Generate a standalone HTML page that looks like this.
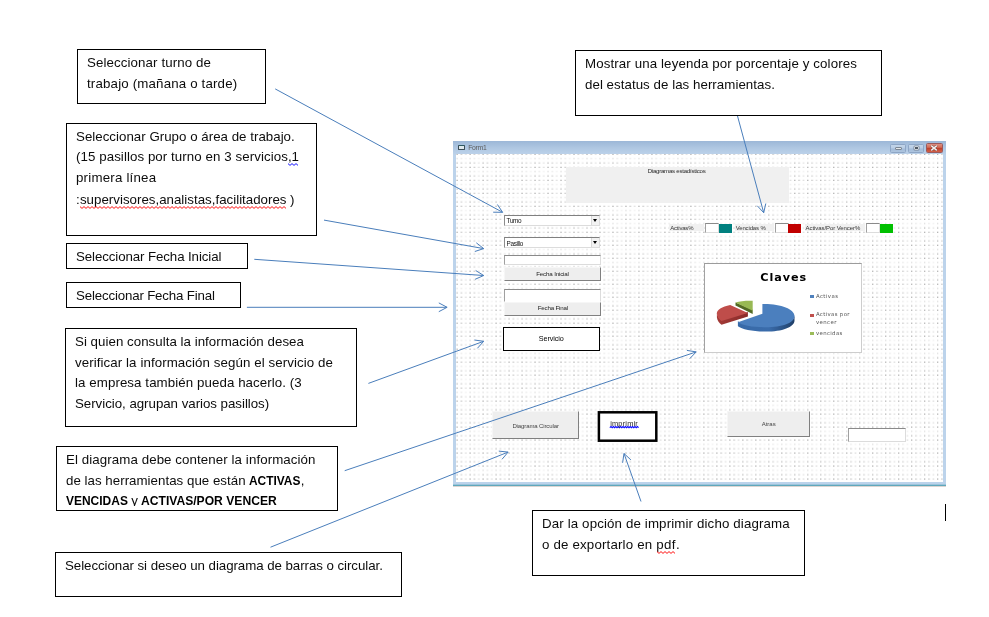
<!DOCTYPE html>
<html lang="es">
<head>
<meta charset="utf-8">
<title>Diagramas estadísticos</title>
<style>
html,body{margin:0;padding:0;background:#fff;}
body{width:989px;height:617px;position:relative;overflow:hidden;font-family:"Liberation Sans",sans-serif;color:#000;}
.tb{position:absolute;border:1px solid #000;background:#fff;box-sizing:content-box;}
.ln{position:absolute;left:0;white-space:nowrap;font-size:13.3px;line-height:20px;height:20px;padding-left:9.0px;color:#0c0c0c;filter:grayscale(1);}
.ln b{display:inline-block;font-size:13px;font-weight:bold;transform-origin:0 50%;white-space:nowrap;color:#000;}
.zz{position:absolute;overflow:visible;}
.arrows{position:absolute;left:0;top:0;pointer-events:none;}
.abs{position:absolute;box-sizing:border-box;}
.vt{position:absolute;white-space:nowrap;filter:grayscale(1) blur(0.25px);font-size:6.5px;line-height:8px;color:#333;letter-spacing:-0.1px;}
.btn{position:absolute;box-sizing:border-box;background:#eeeeee;border:1px solid #f6f6f6;border-right-color:#808080;border-bottom-color:#808080;}
.inp{position:absolute;box-sizing:border-box;background:#fff;border:1px solid #dcdcdc;border-top-color:#8a8a8a;border-left-color:#a0a0a0;}
.inp.cb{border-top:1.4px solid #808080;border-left:1.3px solid #8c8c8c;}
.lab{position:absolute;background:#f0f0f0;}
.wb{position:absolute;top:143.5px;height:9px;box-sizing:border-box;border:1px solid #8ea6c6;border-radius:1.5px;background:linear-gradient(#c3d5e9,#b9cde5 48%,#a3bbd8 52%,#adc4de);}
.wb i{position:absolute;display:block;box-sizing:border-box;border-radius:1px;}
.wb.cl{background:linear-gradient(#dc8f80,#d4705c 40%,#c1412b 55%,#d2624b);border-color:#9a5a5c;top:143.3px;height:9.4px}
.dd{position:absolute;right:0;top:0;width:8.5px;height:100%;background:#f2f2f2;border-left:1px solid #d8d8d8;box-sizing:border-box;}
.dd i{position:absolute;left:1.3px;top:3.4px;width:0;height:0;border-left:2.5px solid transparent;border-right:2.5px solid transparent;border-top:3px solid #000;}
</style>
</head>
<body>
<!-- ===== VB form mock-up ===== -->
<div id="frame" class="abs" style="left:453px;top:141px;width:493px;height:346px;background:linear-gradient(#9cb7d7 0,#afc7e2 7px,#bbd1e9 13px,#bcd3eb 14px,#bcd3eb 343.3px,#5fa8bc 343.9px,#5fa8bc 345px,#b9aaa4 345.3px,#fff 345.7px);"></div>
<div id="client" class="abs" style="left:456px;top:154px;width:487px;height:328px;background:#fff;overflow:hidden;">
<svg width="487" height="328" style="position:absolute;left:0;top:0"><defs><pattern id="dots" x="0.6" y="-0.2" width="12.99" height="12.99" patternUnits="userSpaceOnUse"><rect x="0.00" y="0.00" width="1" height="0.95" fill="#787878"/><rect x="4.33" y="0.00" width="1" height="0.95" fill="#8c8c8c"/><rect x="8.66" y="0.00" width="1" height="0.95" fill="#b4b4b4"/><rect x="0.00" y="4.33" width="1" height="0.95" fill="#c2c2c2"/><rect x="4.33" y="4.33" width="1" height="0.95" fill="#cbcbcb"/><rect x="8.66" y="4.33" width="1" height="0.95" fill="#dddddd"/><rect x="0.00" y="8.66" width="1" height="0.95" fill="#858585"/><rect x="4.33" y="8.66" width="1" height="0.95" fill="#979797"/><rect x="8.66" y="8.66" width="1" height="0.95" fill="#bcbcbc"/></pattern></defs><rect width="487" height="328" fill="url(#dots)"/></svg>
</div>
<div class="abs" style="left:458.2px;top:144.8px;width:6.6px;height:5.6px;background:#dfe9ee;border:1px solid #3a4c55;border-top:1.6px solid #2c5960;border-radius:1px;filter:blur(0.3px)"></div>
<div class="vt" style="left:468.2px;top:142.5px;font-size:6.8px;line-height:10px;letter-spacing:-0.269px;color:#4d5d78;">Form1</div>
<div class="wb" style="left:890px;width:16px"><i style="left:4.2px;top:2.9px;width:6.4px;height:2.9px;background:#e4e7ea;border:0.6px solid #7b8794"></i></div>
<div class="wb" style="left:908px;width:16px"><i style="left:4.6px;top:1.2px;width:5.8px;height:4.4px;background:#4e5966;border:1px solid #c9d0d8;box-shadow:0 0 0 0.5px #76849a"></i></div>
<div class="wb cl" style="left:925.6px;width:17px"><svg width="8" height="6" viewBox="0 0 8 6" style="position:absolute;left:3.8px;top:1.1px"><path d="M1.2 0.6L6.8 5.4M6.8 0.6L1.2 5.4" stroke="#7a4038" stroke-width="2.6" fill="none"/><path d="M1.2 0.6L6.8 5.4M6.8 0.6L1.2 5.4" stroke="#f1efee" stroke-width="1.5" fill="none"/></svg></div>
<div class="lab" style="left:565.6px;top:166.6px;width:223.2px;height:36.4px"></div>
<div class="vt" style="left:647.7px;top:166.0px;font-size:6.1px;line-height:9px;letter-spacing:-0.254px;color:#262626;">Diagramas estadísticos</div>
<div class="inp cb" style="left:504.3px;top:214.6px;width:96.2px;height:11.2px"><div class="dd"><i></i></div></div>
<div class="vt" style="left:506.6px;top:216.0px;font-size:6.4px;line-height:9px;letter-spacing:-0.376px;color:#111;">Turno</div>
<div class="inp cb" style="left:504.3px;top:237.1px;width:96.2px;height:10.6px"><div class="dd"><i></i></div></div>
<div class="vt" style="left:506.6px;top:239.0px;font-size:6.4px;line-height:9px;letter-spacing:-0.365px;color:#111;">Pasillo</div>
<div class="inp" style="left:504.3px;top:254.6px;width:96.3px;height:10.8px"></div>
<div class="btn" style="left:504.3px;top:266.8px;width:96.8px;height:13.8px"></div>
<div class="vt" style="left:536.2px;top:269.0px;font-size:6.2px;line-height:9px;letter-spacing:-0.162px;color:#222;">Fecha Inicial</div>
<div class="inp" style="left:504.3px;top:289px;width:96.3px;height:12.6px;border-bottom-color:#fff"></div>
<div class="btn" style="left:504.3px;top:301.9px;width:96.8px;height:14.1px"></div>
<div class="vt" style="left:537.8px;top:303.0px;font-size:6.2px;line-height:9px;letter-spacing:-0.208px;color:#222;">Fecha Final</div>
<div class="abs" style="left:503px;top:327px;width:97px;height:24px;background:#fff;border:1px solid #000"></div>
<div class="vt" style="left:538.8px;top:333.5px;font-size:7.2px;line-height:10px;letter-spacing:-0.076px;color:#000;">Servicio</div>
<div class="btn" style="left:491.7px;top:411.2px;width:87.6px;height:28px"></div>
<div class="vt" style="left:512.4px;top:422.0px;font-size:6.0px;line-height:8px;letter-spacing:-0.114px;color:#444;">Diagrama Circular</div>
<svg class="abs" style="left:596px;top:409px" width="64" height="36" viewBox="596 409 64 36"><rect x="598.9" y="412.3" width="57.4" height="28.4" fill="#fff" stroke="#000" stroke-width="2.5"/><polyline points="609.8,427.7 611.0,426.5 612.2,427.7 613.4,426.5 614.6,427.7 615.8,426.5 617.0,427.7 618.2,426.5 619.4,427.7 620.6,426.5 621.8,427.7 623.0,426.5 624.2,427.7 625.4,426.5 626.6,427.7 627.8,426.5 629.0,427.7 630.2,426.5 631.4,427.7 632.6,426.5 633.8,427.7 635.0,426.5 636.2,427.7 637.4,426.5 638.6,427.7" fill="none" stroke="#0a0aff" stroke-width="1.1"/></svg>
<div class="vt" style="left:610.2px;top:418.5px;font-size:7.4px;line-height:10px;letter-spacing:0.187px;color:#222;">imprimir</div>
<div class="btn" style="left:727.2px;top:411px;width:83.2px;height:26.4px"></div>
<div class="vt" style="left:761.7px;top:420.0px;font-size:6.0px;line-height:8px;letter-spacing:-0.001px;color:#444;">Atras</div>
<div class="inp" style="left:847.7px;top:427.5px;width:58.4px;height:14.2px"></div>
<div class="lab" style="left:669.2px;top:224.1px;width:34.6px;height:7.4px"></div>
<div class="vt" style="left:670.2px;top:224.0px;font-size:6.0px;line-height:8px;letter-spacing:-0.197px;color:#333;">Activas%</div>
<div class="inp" style="left:704.8px;top:223.3px;width:14px;height:9.8px"></div>
<div class="abs" style="left:718.6px;top:223.8px;width:13.1px;height:8.9px;background:#00807f"></div>
<div class="lab" style="left:734.8px;top:224.1px;width:39.3px;height:7.4px"></div>
<div class="vt" style="left:735.7px;top:224.0px;font-size:6.0px;line-height:8px;letter-spacing:-0.145px;color:#333;">Vencidas %</div>
<div class="inp" style="left:774.7px;top:223.3px;width:14px;height:9.8px"></div>
<div class="abs" style="left:788.4px;top:223.8px;width:13px;height:8.9px;background:#c10000"></div>
<div class="lab" style="left:804.9px;top:224.1px;width:60.2px;height:7.4px"></div>
<div class="vt" style="left:805.6px;top:224.0px;font-size:6.0px;line-height:8px;letter-spacing:-0.075px;color:#333;">Activas/Por Vencer%</div>
<div class="inp" style="left:866.2px;top:223.3px;width:14px;height:9.8px"></div>
<div class="abs" style="left:879.8px;top:223.8px;width:13.2px;height:8.9px;background:#00c000"></div>
<div class="abs" style="left:704px;top:263px;width:158px;height:89.5px;background:#fff;border:1px solid #cdcdcd;border-top-color:#9c9c9c;border-left-color:#a2a2a2"></div>
<div class="vt" style="left:760.3px;top:269.5px;font-size:11.2px;line-height:16px;letter-spacing:0.970px;color:#000;font-family:'DejaVu Sans',sans-serif;font-weight:bold;">Claves</div>
<svg class="abs" style="left:710px;top:296px" width="92" height="42" viewBox="710 296 92 42">
<defs>
<linearGradient id="gb" x1="0" y1="0" x2="1" y2="0"><stop offset="0" stop-color="#386aa8"/><stop offset="0.55" stop-color="#3a6cab"/><stop offset="1" stop-color="#1f3f68"/></linearGradient>
<linearGradient id="gr" x1="0" y1="0" x2="1" y2="0"><stop offset="0" stop-color="#a33a37"/><stop offset="1" stop-color="#8a2c2a"/></linearGradient>
</defs>
<path d="M737.9 321.3 C742 324.5 753 326.3 766 326.3 C782 326.3 794.5 322 794.5 315 L794.5 320.5 C794.5 327.3 782 331.6 766 331.6 C753 331.6 742 329.6 737.9 326.3 Z" fill="url(#gb)"/>
<path d="M762.4 304 C780 303.5 794.5 309 794.5 316 C794.5 323 782 327.3 766 327.3 C753 327.3 742 325.5 737.9 322.3 L762.4 313.7 Z" fill="#4b7fbe"/>
<path d="M716.9 312.7 C717.2 315.5 719 318 721.5 319.9 L747.9 312 L747.9 316.6 L721.5 324.7 C719 322.8 717.2 320.3 716.9 317.5 Z" fill="url(#gr)"/>
<path d="M730.2 305 C722 306.5 716.5 310 716.9 313.7 C717.2 316.5 719 319 721.5 320.9 L747.9 313 Z" fill="#bf4d4a"/>
<path d="M735.5 302.6 L752.7 309.8 L752.7 314.1 L735.5 305.6 Z" fill="#526a25"/>
<path d="M735.5 302.6 C740 301 746 300.5 752.7 300.7 L752.7 310.8 Z" fill="#98b954"/>
</svg>
<div class="abs" style="left:810.2px;top:295.2px;width:4.2px;height:3px;background:#4f81bd"></div>
<div class="vt" style="left:815.9px;top:292.0px;font-size:5.4px;line-height:8px;letter-spacing:0.442px;color:#555;font-family:'DejaVu Sans',sans-serif;">Activas</div>
<div class="abs" style="left:810.2px;top:313.6px;width:4.2px;height:3px;background:#c0504d"></div>
<div class="vt" style="left:815.9px;top:310.0px;font-size:5.4px;line-height:8px;letter-spacing:0.348px;color:#555;font-family:'DejaVu Sans',sans-serif;">Activas por</div>
<div class="vt" style="left:815.9px;top:318.0px;font-size:5.4px;line-height:8px;letter-spacing:0.425px;color:#555;font-family:'DejaVu Sans',sans-serif;">vencer</div>
<div class="abs" style="left:810.2px;top:331.6px;width:4.2px;height:3px;background:#9bbb59"></div>
<div class="vt" style="left:815.9px;top:329.0px;font-size:5.4px;line-height:8px;letter-spacing:0.368px;color:#555;font-family:'DejaVu Sans',sans-serif;">vencidas</div>
<!-- ===== arrows ===== -->
<svg class="arrows" width="989" height="617" viewBox="0 0 989 617"><g fill="none" stroke="#4a7ebb" stroke-width="1" stroke-linejoin="miter"><path d="M275.2 88.9L502.6 212.3M493.2 212.2L502.6 212.3L497.4 204.5"/><path d="M324.0 220.1L483.7 248.6M474.8 251.5L483.7 248.6L476.3 242.8"/><path d="M254.3 259.3L483.7 275.5M475.1 279.3L483.7 275.5L475.7 270.5"/><path d="M246.9 307.3L447.1 307.3M438.8 311.7L447.1 307.3L438.8 302.9"/><path d="M368.4 383.4L483.7 341.3M477.4 348.3L483.7 341.3L474.4 340.0"/><path d="M344.7 470.7L696.2 351.9M689.7 358.7L696.2 351.9L686.9 350.4"/><path d="M270.5 547.2L508.1 452.1M502.0 459.3L508.1 452.1L498.8 451.1"/><path d="M737.4 115.6L763.7 212.7M757.3 205.8L763.7 212.7L765.8 203.5"/><path d="M641.0 501.5L624.0 453.5M630.9 459.9L624.0 453.5L622.6 462.8"/></g></svg>
<!-- ===== text boxes ===== -->
<div class="tb" style="left:77px;top:49px;width:187px;height:53px">
<div class="ln" style="top:3.1px"><span style="letter-spacing:0.103px">Seleccionar turno de</span></div>
<div class="ln" style="top:23.7px"><span style="letter-spacing:0.166px">trabajo (mañana o tarde)</span></div>
</div>
<div class="tb" style="left:66px;top:123px;width:249px;height:111px">
<div class="ln" style="top:3.1px"><span style="letter-spacing:0.019px">Seleccionar Grupo o área de trabajo.</span></div>
<div class="ln" style="top:22.7px"><span style="letter-spacing:0.073px">(15 pasillos por turno en 3 servicios</span><span style="letter-spacing:0.001px">,1</span></div>
<svg class="zz" style="left:221.2px;top:38.8px" width="12" height="3" viewBox="0 0 12 3"><polyline points="0.0,0.6 2.0,2.4 4.0,0.6 6.0,2.4 8.0,0.6 10.0,2.4" fill="none" stroke="#1414ff" stroke-width="1.0"/></svg>
<div class="ln" style="top:44.2px"><span style="letter-spacing:0.207px">primera línea</span></div>
<div class="ln" style="top:65.8px"><span style="letter-spacing:0.229px">:</span><span style="letter-spacing:0.011px">supervisores,analistas,facilitadores</span><span style="letter-spacing:-0.181px"> )</span></div>
<svg class="zz" style="left:13.2px;top:81.8px" width="208" height="3" viewBox="0 0 208 3"><polyline points="0.0,0.6 2.0,2.4 4.0,0.6 6.0,2.4 8.0,0.6 10.0,2.4 12.0,0.6 14.0,2.4 16.0,0.6 18.0,2.4 20.0,0.6 22.0,2.4 24.0,0.6 26.0,2.4 28.0,0.6 30.0,2.4 32.0,0.6 34.0,2.4 36.0,0.6 38.0,2.4 40.0,0.6 42.0,2.4 44.0,0.6 46.0,2.4 48.0,0.6 50.0,2.4 52.0,0.6 54.0,2.4 56.0,0.6 58.0,2.4 60.0,0.6 62.0,2.4 64.0,0.6 66.0,2.4 68.0,0.6 70.0,2.4 72.0,0.6 74.0,2.4 76.0,0.6 78.0,2.4 80.0,0.6 82.0,2.4 84.0,0.6 86.0,2.4 88.0,0.6 90.0,2.4 92.0,0.6 94.0,2.4 96.0,0.6 98.0,2.4 100.0,0.6 102.0,2.4 104.0,0.6 106.0,2.4 108.0,0.6 110.0,2.4 112.0,0.6 114.0,2.4 116.0,0.6 118.0,2.4 120.0,0.6 122.0,2.4 124.0,0.6 126.0,2.4 128.0,0.6 130.0,2.4 132.0,0.6 134.0,2.4 136.0,0.6 138.0,2.4 140.0,0.6 142.0,2.4 144.0,0.6 146.0,2.4 148.0,0.6 150.0,2.4 152.0,0.6 154.0,2.4 156.0,0.6 158.0,2.4 160.0,0.6 162.0,2.4 164.0,0.6 166.0,2.4 168.0,0.6 170.0,2.4 172.0,0.6 174.0,2.4 176.0,0.6 178.0,2.4 180.0,0.6 182.0,2.4 184.0,0.6 186.0,2.4 188.0,0.6 190.0,2.4 192.0,0.6 194.0,2.4 196.0,0.6 198.0,2.4 200.0,0.6 202.0,2.4 204.0,0.6 206.0,2.4" fill="none" stroke="#ff1515" stroke-width="1.0"/></svg>
</div>
<div class="tb" style="left:66px;top:243px;width:180px;height:24px">
<div class="ln" style="top:3.1px"><span style="letter-spacing:-0.100px">Seleccionar Fecha Inicial</span></div>
</div>
<div class="tb" style="left:66px;top:282px;width:173px;height:24px">
<div class="ln" style="top:3.1px"><span style="letter-spacing:-0.167px">Seleccionar Fecha Final</span></div>
</div>
<div class="tb" style="left:65px;top:328px;width:290px;height:97px">
<div class="ln" style="top:3.1px"><span style="letter-spacing:0.033px">Si quien consulta la información desea</span></div>
<div class="ln" style="top:23.6px"><span style="letter-spacing:0.084px">verificar la información según el servicio de</span></div>
<div class="ln" style="top:44.2px"><span style="letter-spacing:0.080px">la empresa también pueda hacerlo. (3</span></div>
<div class="ln" style="top:64.8px"><span style="letter-spacing:-0.029px">Servicio, agrupan varios pasillos)</span></div>
</div>
<div class="tb" style="left:56px;top:446px;width:280px;height:63px">
<div class="ln" style="top:3.1px"><span style="letter-spacing:0.085px">El diagrama debe contener la información</span></div>
<div class="ln" style="top:23.6px"><span style="letter-spacing:0.025px">de las herramientas que están </span><b style="width:51.43px;transform:scaleX(0.9169)">ACTIVAS</b><span style="letter-spacing:-0.036px">,</span></div>
<div class="ln" style="top:44.2px;height:15px;overflow:hidden"><b style="width:61.88px;transform:scaleX(0.9212)">VENCIDAS</b><span style="letter-spacing:-0.257px"> y </span><b style="width:135.70px;transform:scaleX(0.9316)">ACTIVAS/POR VENCER</b></div>
</div>
<div class="tb" style="left:55px;top:552px;width:345px;height:43px">
<div class="ln" style="top:3.1px"><span style="letter-spacing:-0.055px">Seleccionar si deseo un diagrama de barras o circular.</span></div>
</div>
<div class="tb" style="left:575px;top:50px;width:305px;height:64px">
<div class="ln" style="top:3.1px"><span style="letter-spacing:0.117px">Mostrar una leyenda por porcentaje y colores</span></div>
<div class="ln" style="top:23.7px"><span style="letter-spacing:0.044px">del estatus de las herramientas.</span></div>
</div>
<div class="tb" style="left:532px;top:510px;width:271px;height:64px">
<div class="ln" style="top:3.1px"><span style="letter-spacing:0.135px">Dar la opción de imprimir dicho diagrama</span></div>
<div class="ln" style="top:23.6px"><span style="letter-spacing:0.171px">o de exportarlo en </span><span style="letter-spacing:0.466px">pdf</span><span style="letter-spacing:0.007px">.</span></div>
<svg class="zz" style="left:123.5px;top:39.7px" width="21" height="3" viewBox="0 0 21 3"><polyline points="0.0,0.6 2.0,2.4 4.0,0.6 6.0,2.4 8.0,0.6 10.0,2.4 12.0,0.6 14.0,2.4 16.0,0.6 18.0,2.4" fill="none" stroke="#ff1515" stroke-width="1.0"/></svg>
</div>
<div class="abs" style="left:945px;top:504px;width:1px;height:17px;background:#000;"></div>
</body>
</html>
